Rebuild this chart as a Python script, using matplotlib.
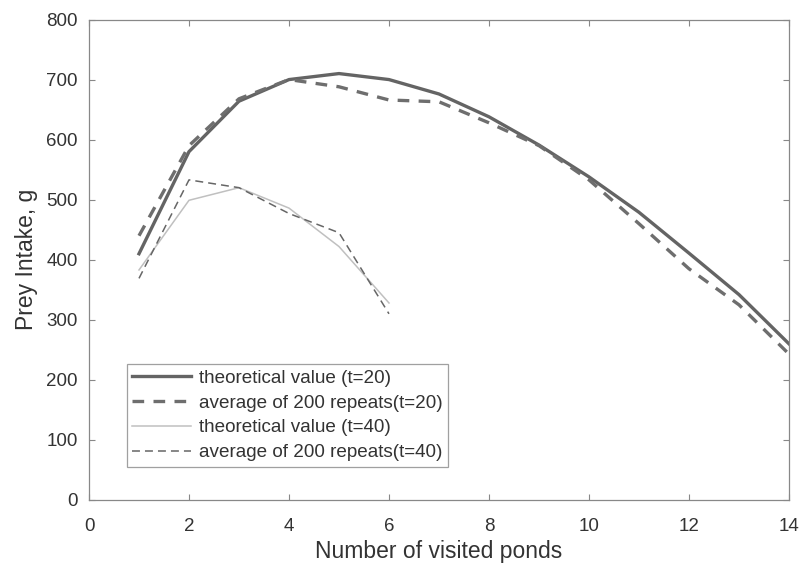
import numpy as np
import matplotlib.pyplot as plt

plt.rcParams["font.family"] = ["Liberation Sans", "DejaVu Sans"]

# number of visited ponds
ponds20 = [1, 2, 3, 4, 5, 6, 7, 8, 9, 10, 11, 12, 13, 14]
ponds40 = [1, 2, 3, 4, 5, 6]

# prey intake (g)
theory20 = [410, 580, 664, 700, 710, 700, 676, 638, 591, 538, 479, 411, 342, 260]
average20 = [440, 590, 668, 700, 688, 666, 663, 628, 590, 533, 460, 385, 325, 243]
theory40 = [383, 499, 520, 486, 422, 328]
average40 = [369, 533, 520, 477, 445, 310]

labels = ["theoretical value (t=20)", "average of 200 repeats(t=20)",
          "theoretical value (t=40)", "average of 200 repeats(t=40)"]

fig = plt.figure(figsize=(8.04, 5.64), dpi=100)
ax = fig.add_axes([0.1107, 0.1135, 0.8706, 0.8519])

ax.plot(ponds20, theory20, color="#646464", lw=2.4, label=labels[0])
ax.plot(ponds20, average20, color="#6e6e6e", lw=2.4, ls=(0, (3.5, 2.8)), label=labels[1])
ax.plot(ponds40, theory40, color="#c0c0c0", lw=1.1, label=labels[2])
ax.plot(ponds40, average40, color="#666666", lw=1.1, ls=(0, (5.2, 3.3)), label=labels[3])

ax.set_xlim(0, 14)
ax.set_ylim(0, 800)
ax.set_xticks(range(0, 15, 2))
ax.set_yticks(range(0, 801, 100))
ax.tick_params(direction="in", top=True, right=True, length=4.5, width=0.8,
               color="#888888", labelcolor="#333333", labelsize=13.5)
ax.tick_params(axis="x", pad=13)
ax.tick_params(axis="y", pad=8)
for s in ax.spines.values():
    s.set_color("#888888")
    s.set_linewidth(0.9)

# keep the x label just inside the bottom edge
ax.set_xlabel("Number of visited ponds", fontsize=16.5, color="#333333", labelpad=3.5)
ax.set_ylabel("Prey Intake, g", fontsize=16.5, color="#333333", labelpad=6)

leg = ax.legend(loc="lower left", bbox_to_anchor=(0.054, 0.069), fontsize=13.6,
                frameon=True, fancybox=False, handlelength=3.1, handletextpad=0.42,
                borderpad=0.3, labelspacing=0.4, borderaxespad=0)
leg.get_frame().set_edgecolor("#888888")
leg.get_frame().set_linewidth(0.9)
for t in leg.get_texts():
    t.set_color("#333333")

fig.savefig("out.png", dpi=100)
